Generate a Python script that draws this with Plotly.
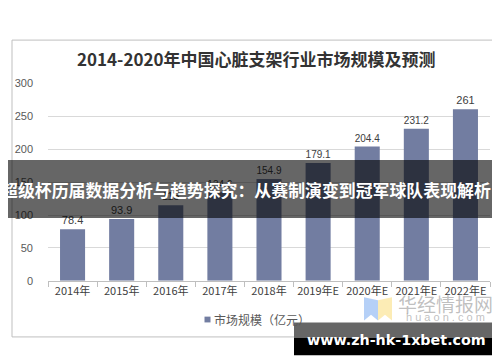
import plotly.graph_objects as go

categories = ["2014年", "2015年", "2016年", "2017年", "2018年", "2019年E", "2020年E", "2021年E", "2022年E"]
values = [78.4, 93.9, 115.0, 134.6, 154.9, 179.1, 204.4, 231.2, 261]
value_labels = ["78.4", "93.9", "115", "134.6", "154.9", "179.1", "204.4", "231.2", "261"]
y_ticks = [0, 50, 100, 150, 200, 250, 300]
series_name = "市场规模（亿元）"
title_text = "2014-2020年中国心脏支架行业市场规模及预测"
banner_text = "超级杯历届数据分析与趋势探究：从赛制演变到冠军球队表现解析"
site_text = "www.zh-hk-1xbet.com"
bar_color = "#727DA1"

W, H = 500, 362
def fx(x):
    return x / W
def fy(y):
    return 1 - y / H

CJK = "Noto Sans CJK SC, Arial, sans-serif"
SANS = "Arial, Liberation Sans, sans-serif"

fig = go.Figure()
fig.add_trace(go.Bar(
    x=categories, y=values, name=series_name,
    marker=dict(color=bar_color, line=dict(width=0)),
    text=value_labels, textposition="outside", cliponaxis=False,
    textfont=dict(family=SANS, size=11, color="#404040"),
    showlegend=False,
))

shapes = [
    # chart border
    dict(type="rect", xref="paper", yref="paper", x0=fx(4), x1=fx(497), y0=fy(334), y1=fy(27),
         line=dict(color="#BFBFBF", width=1), fillcolor="rgba(0,0,0,0)", layer="below"),
    # legend marker
    dict(type="rect", xref="paper", yref="paper", x0=fx(196.5), x1=fx(202.5), y0=fy(319), y1=fy(313),
         fillcolor=bar_color, line=dict(width=0), layer="above"),
    # watermark logo
    dict(type="path", xref="paper", yref="paper",
         path=f"M {fx(356)} {fy(293)} L {fx(370)} {fy(296)} L {fx(370)} {fy(317)} L {fx(363)} {fy(311)} L {fx(356)} {fy(317)} Z",
         fillcolor="rgba(120,170,240,0.55)", line=dict(width=0), layer="above"),
    dict(type="path", xref="paper", yref="paper",
         path=f"M {fx(370)} {fy(296)} L {fx(384)} {fy(293)} L {fx(384)} {fy(317)} L {fx(377)} {fy(311)} L {fx(370)} {fy(317)} Z",
         fillcolor="rgba(250,220,120,0.55)", line=dict(width=0), layer="above"),
    # banner
    dict(type="rect", xref="paper", yref="paper", x0=0, x1=1, y0=fy(211), y1=fy(151),
         fillcolor="rgba(0,0,0,0.6)", line=dict(width=0), layer="above"),
    # site box
    dict(type="rect", xref="paper", yref="paper", x0=fx(286), x1=fx(491), y0=fy(335), y1=fy(319),
         fillcolor="#666666", line=dict(width=0), layer="above"),
    dict(type="rect", xref="paper", yref="paper", x0=fx(286), x1=fx(491), y0=fy(353), y1=fy(335),
         fillcolor="#000000", line=dict(width=0), layer="above"),
]

annotations = [
    dict(text=f"<b>{title_text}</b>", xref="paper", yref="paper", x=fx(248), y=fy(46),
         showarrow=False, font=dict(family=CJK, size=17, color="#333333"), xanchor="center", yanchor="middle"),
    dict(text=series_name, xref="paper", yref="paper", x=fx(204), y=fy(316),
         showarrow=False, font=dict(family=CJK, size=12, color="#595959"), xanchor="left", yanchor="middle"),
    dict(text="华经情报网", xref="paper", yref="paper", x=fx(437), y=fy(299),
         showarrow=False, font=dict(family=CJK, size=19, color="rgba(150,150,150,0.6)"), xanchor="center", yanchor="middle"),
    dict(text="h u a o n . c o m", xref="paper", yref="paper", x=fx(437), y=fy(313),
         showarrow=False, font=dict(family=SANS, size=11, color="rgba(150,150,150,0.6)"), xanchor="center", yanchor="middle"),
    dict(text=f"<b>{banner_text}</b>", xref="paper", yref="paper", x=fx(-9), y=fy(181),
         showarrow=False, font=dict(family=CJK, size=16.9, color="#FFFFFF"), xanchor="left", yanchor="middle"),
    dict(text=f"<b>{site_text}</b>", xref="paper", yref="paper", x=fx(388), y=fy(337),
         showarrow=False, font=dict(family="DejaVu Sans, sans-serif", size=14.3, color="#FFFFFF"), xanchor="center", yanchor="middle"),
]

fig.update_layout(
    width=W, height=H, autosize=False,
    margin=dict(l=0, r=0, t=0, b=0),
    paper_bgcolor="#FFFFFF", plot_bgcolor="#FFFFFF",
    bargap=0.49,
    showlegend=False,
    xaxis=dict(domain=[fx(40), fx(482)], showgrid=False, showline=True, linecolor="#BFBFBF", linewidth=1,
               ticks="outside", tickson="boundaries", ticklen=5, tickcolor="#BFBFBF", tickangle=0,
               tickfont=dict(family=CJK, size=11, color="#404040"), anchor="y"),
    yaxis=dict(domain=[fy(276), fy(72)], range=[0, 300], tickvals=y_ticks,
               showgrid=True, gridcolor="#D9D9D9", gridwidth=1, zeroline=False, showline=False,
               ticks="", ticklabelstandoff=14,
               tickfont=dict(family=SANS, size=11, color="#595959")),
    shapes=shapes, annotations=annotations,
)

fig.write_html("out.html")
